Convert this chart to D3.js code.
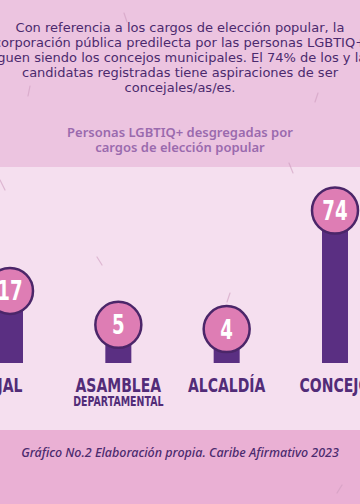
<!DOCTYPE html>
<html>
<head>
<meta charset="utf-8">
<script src="https://cdn.jsdelivr.net/npm/d3@7"></script>
<style>
  html, body { margin: 0; padding: 0; background: #ecc4e0; }
  svg { display: block; }
</style>
</head>
<body>
<svg id="chart" width="360" height="504"></svg>
<script>
// ---- data ----
const categories = ["JAL", "ASAMBLEA", "ALCALDÍA", "CONCEJO"];
const subLabels = ["", "DEPARTAMENTAL", "", ""];
const values = [17, 5, 4, 74];
const titleLines = [
  "Con referencia a los cargos de elección popular, la",
  "corporación pública predilecta por las personas LGBTIQ+",
  "siguen siendo los concejos municipales. El 74% de los y las",
  "candidatas registradas tiene aspiraciones de ser",
  "concejales/as/es."
];
const subtitleLines = ["Personas LGBTIQ+ desgregadas por", "cargos de elección popular"];
const footnote = "Gráfico No.2 Elaboración propia. Caribe Afirmativo 2023";

// ---- layout ----
const W = 360, H = 504;
const svg = d3.select("#chart");
const purple = "#5a2f82", dark = "#4b2669", pink = "#de7db4", labelCol = "#522c78";

svg.append("rect").attr("x", 0).attr("y", 0).attr("width", W).attr("height", 167).attr("fill", "#ecc4e0");
svg.append("rect").attr("x", 0).attr("y", 167).attr("width", W).attr("height", 263).attr("fill", "#f5dfef");
svg.append("rect").attr("x", 0).attr("y", 430).attr("width", W).attr("height", 74).attr("fill", "#eab0d4");

// faint decorative slashes
const slashes = [[124,13,127,22],[30,86,28,96],[318,93,315,102],[289,163,293,173],[0,180,5,190],[97,257,102,265],[230,293,227,302],[342,485,337,493]];
svg.append("g").selectAll("line").data(slashes).join("line")
  .attr("x1", d => d[0]).attr("y1", d => d[1]).attr("x2", d => d[2]).attr("y2", d => d[3])
  .attr("stroke", "#cf9dbf").attr("stroke-width", 1.2).attr("opacity", 0.6).attr("stroke-linecap", "round");

// title
svg.append("g").selectAll("text").data(titleLines).join("text")
  .attr("x", 180).attr("y", (d, i) => 32 + i * 15)
  .attr("text-anchor", "middle")
  .attr("font-family", "'DejaVu Sans', sans-serif").attr("font-size", 13)
  .attr("fill", "#4b2a6e")
  .text(d => d);

// subtitle
svg.append("g").selectAll("text").data(subtitleLines).join("text")
  .attr("x", 180).attr("y", (d, i) => 137 + i * 15)
  .attr("text-anchor", "middle")
  .attr("font-family", "'Noto Sans', sans-serif").attr("font-size", 13).attr("font-weight", 600)
  .attr("fill", "#9a6aae")
  .text(d => d);

// scales
const x = d3.scalePoint().domain(categories).range([10, 335]);
const y = d3.scaleSqrt().domain([0, 74]).range([365, 210.5]);
const baseline = 363, barW = 26, r = 23;
const data = categories.map((c, i) => ({ c, v: values[i], sub: subLabels[i] }));

const g = svg.append("g");
g.selectAll("rect.bar").data(data).join("rect").attr("class", "bar")
  .attr("x", d => x(d.c) - barW / 2).attr("y", d => y(d.v))
  .attr("width", barW).attr("height", d => baseline - y(d.v))
  .attr("fill", purple);

g.selectAll("circle").data(data).join("circle")
  .attr("cx", d => x(d.c)).attr("cy", d => y(d.v)).attr("r", r)
  .attr("fill", pink).attr("stroke", dark).attr("stroke-width", 2.5);

const sx = 0.7;
g.selectAll("text.num").data(data).join("text").attr("class", "num")
  .attr("transform", d => `translate(${x(d.c)},${y(d.v) + 9.5}) scale(${sx},1)`)
  .attr("text-anchor", "middle")
  .attr("font-family", "'DejaVu Sans', sans-serif").attr("font-weight", "bold").attr("font-size", 26)
  .attr("fill", "#ffffff")
  .text(d => d.v);

g.selectAll("text.lab").data(data).join("text").attr("class", "lab")
  .attr("transform", d => `translate(${x(d.c)},392) scale(${sx},1)`)
  .attr("text-anchor", "middle")
  .attr("font-family", "'DejaVu Sans', sans-serif").attr("font-weight", "bold").attr("font-size", 20)
  .attr("fill", labelCol)
  .text(d => d.c);

g.selectAll("text.sub").data(data.filter(d => d.sub)).join("text").attr("class", "sub")
  .attr("transform", d => `translate(${x(d.c)},406) scale(${sx},1)`)
  .attr("text-anchor", "middle")
  .attr("font-family", "'DejaVu Sans', sans-serif").attr("font-weight", "bold").attr("font-size", 13.5)
  .attr("fill", labelCol)
  .text(d => d.sub);

// footnote
svg.append("text")
  .attr("x", 180).attr("y", 457).attr("text-anchor", "middle")
  .attr("font-family", "'Noto Sans', sans-serif").attr("font-size", 12.5).attr("font-style", "italic").attr("font-weight", 500)
  .attr("fill", "#4b2a6e")
  .text(footnote);
</script>
</body>
</html>
